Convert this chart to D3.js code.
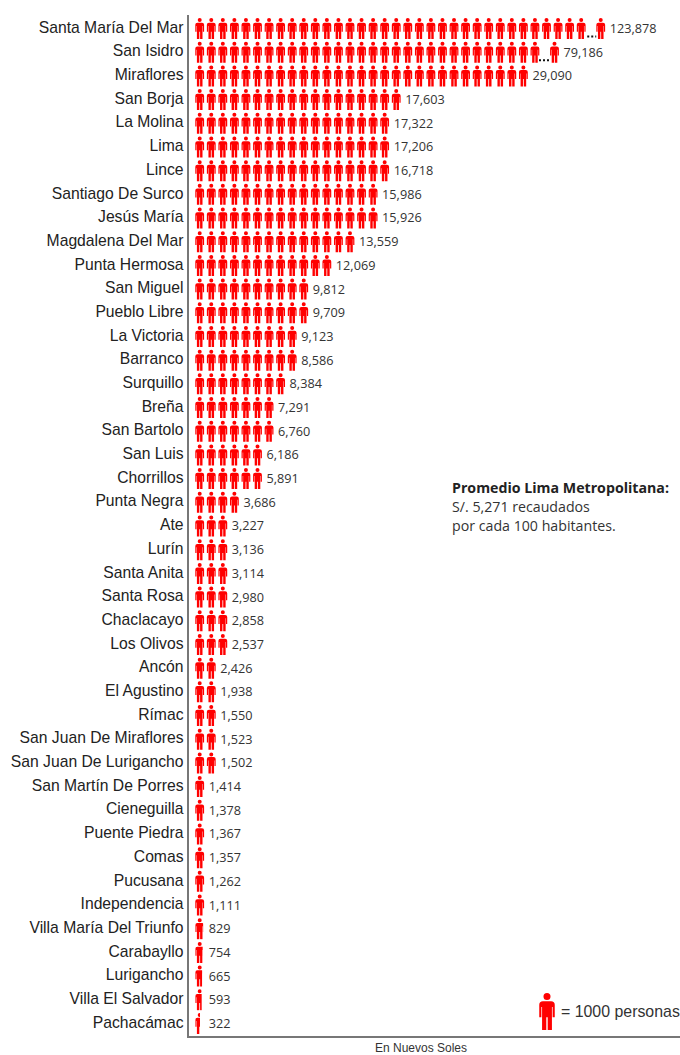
<!DOCTYPE html>
<html><head><meta charset="utf-8"><style>html,body{margin:0;padding:0;background:#fff;overflow:hidden}svg{display:block}</style>
<script src="https://cdn.jsdelivr.net/npm/d3@7"></script></head><body><svg id="c" width="680" height="1055"></svg>
<script>
const districts=["Santa María Del Mar","San Isidro","Miraflores","San Borja","La Molina","Lima","Lince","Santiago De Surco","Jesús María","Magdalena Del Mar","Punta Hermosa","San Miguel","Pueblo Libre","La Victoria","Barranco","Surquillo","Breña","San Bartolo","San Luis","Chorrillos","Punta Negra","Ate","Lurín","Santa Anita","Santa Rosa","Chaclacayo","Los Olivos","Ancón","El Agustino","Rímac","San Juan De Miraflores","San Juan De Lurigancho","San Martín De Porres","Cieneguilla","Puente Piedra","Comas","Pucusana","Independencia","Villa María Del Triunfo","Carabayllo","Lurigancho","Villa El Salvador","Pachacámac"];
const recaudacion=[123878,79186,29090,17603,17322,17206,16718,15986,15926,13559,12069,9812,9709,9123,8586,8384,7291,6760,6186,5891,3686,3227,3136,3114,2980,2858,2537,2426,1938,1550,1523,1502,1414,1378,1367,1357,1262,1111,829,754,665,593,322];
const truncados=new Map([[123878,34],[79186,30]]);
const unidad=1000;
const promedio=["Promedio Lima Metropolitana:","S/. 5,271 recaudados","por cada 100 habitantes."];
const sansF='"Liberation Sans",Arial,sans-serif', myriad='"Open Sans","Noto Sans",sans-serif';
const svg=d3.select("#c");
const y=d3.scalePoint().domain(districts).range([27.5,1022.5]);
const slot=d3.scaleLinear().domain([0,1]).range([199.7,211.26]);
const clipW=d3.scaleLinear().domain([0,unidad]).range([2.8,9]);
const personPath="M0,-10.5a2,2 0 1 1 0,4a2,2 0 1 1 0,-4ZM-2.3,-5.8H2.3Q4.4,-5.8 4.4,-3.8V3.2H3.2V-2.5H2.8V10.5H0.4V3.2H-0.4V10.5H-2.8V-2.5H-3.2V3.2H-4.4V-3.8Q-4.4,-5.8 -2.3,-5.8Z";
const defs=svg.append("defs");
const rows=svg.append("g").selectAll("g").data(districts.map((d,i)=>({name:d,value:recaudacion[i],i}))).join("g")
 .attr("transform",d=>`translate(0,${y(d.name)})`);
rows.append("text").attr("x",183.5).attr("y",0).attr("dy","0.33em").attr("text-anchor","end")
 .attr("font-family",sansF).attr("font-size",15.7).attr("fill","#222").text(d=>d.name);
rows.each(function(d){
 const g=d3.select(this), iconY=1;
 const trunc=truncados.get(d.value);
 const n=trunc?trunc:Math.max(1,Math.round(d.value/unidad));
 const xs=d3.range(n).map(k=>slot(k));
 if(trunc) xs.push(slot(n)+8);
 g.selectAll("path.p").data(xs).join("path").attr("class","p").attr("d",personPath)
  .attr("transform",x=>`translate(${x},${iconY})`).attr("fill","#f00");
 if(d.value<unidad){
  const id="clip"+d.i;
  defs.append("clipPath").attr("id",id).append("rect").attr("x",-4.5).attr("y",-11).attr("width",clipW(d.value)).attr("height",22);
  g.selectAll("path.p").attr("clip-path",`url(#${id})`);
 }
 if(trunc){
  g.append("line").attr("x1",slot(n)-5.5+(n===34?0:-2)).attr("x2",slot(n)+3.5).attr("y1",9).attr("y2",9)
   .attr("stroke","#111").attr("stroke-width",2).attr("stroke-dasharray","2,2");
 }
 g.append("text").attr("x",xs[xs.length-1]+9).attr("y",1).attr("dy","0.35em")
  .attr("font-family",myriad).attr("font-size",12.7).attr("fill","#333").text(d3.format(",")(d.value));
});
svg.append("path").attr("d","M188,15V1037H680").attr("fill","none").attr("stroke","#777").attr("stroke-width",2);
svg.append("g").selectAll("text").data(promedio).join("text").attr("x",452).attr("y",(d,i)=>[493,512,531][i])
 .attr("font-family",myriad).attr("font-size",14.2).attr("font-weight",(d,i)=>i?400:700).attr("fill",(d,i)=>i?"#333":"#222").text(d=>d);
svg.append("path").attr("d",personPath).attr("transform","translate(547,1011.5) scale(1.76)").attr("fill","#f00");
svg.append("text").attr("x",561).attr("y",1016.5).attr("font-family",sansF).attr("font-size",15.9).attr("fill","#333").text("= 1000 personas");
svg.append("text").attr("x",421).attr("y",1052).attr("text-anchor","middle").attr("font-family",sansF).attr("font-size",12).attr("fill","#333").text("En Nuevos Soles");
</script></body></html>
